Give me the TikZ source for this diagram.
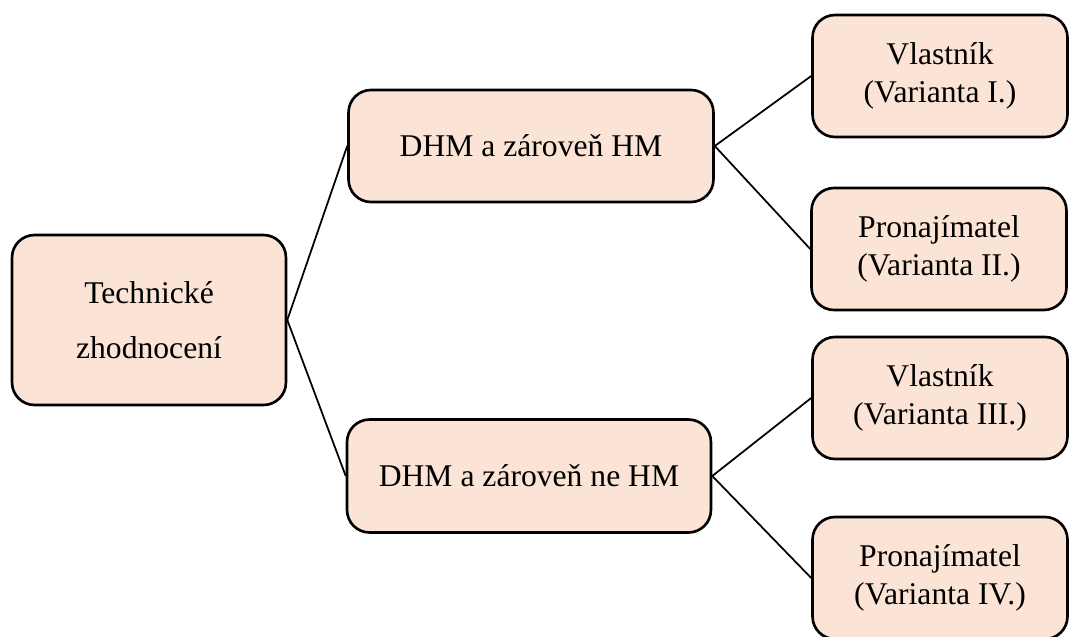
\documentclass[tikz,border=0pt]{standalone}
\usepackage{fontspec}
\setmainfont{Liberation Serif}
\definecolor{boxfill}{HTML}{FBE4D5}

\begin{document}
\begin{tikzpicture}[x=0.02cm, y=-0.02cm,
    box/.style={draw, line width=1.5pt, rounded corners=0.45cm, fill=boxfill,
      align=center, inner sep=0pt, font=\fontsize{18}{21.5}\selectfont},
    side/.style={box, minimum width=5.1cm, minimum height=2.44cm},
    link/.style={line width=1pt}]
        \useasboundingbox (0,0) rectangle (1069,636);
        \node[box, minimum width=5.48cm, minimum height=3.4cm] (tz) at (149,320) {Technické\\[9.5pt]zhodnocení};
        \node[box, minimum width=7.3cm, minimum height=2.24cm] (dhm) at (531,146) {DHM a zároveň HM};
        \node[box, minimum width=7.28cm, minimum height=2.26cm] (dhmne) at (529,476) {DHM a zároveň ne HM};
        \node[side] (v1) at (940,76) {Vlastník\\(Varianta I.)};
        \node[side] (v2) at (939,249) {Pronajímatel\\(Varianta II.)};
        \node[side] (v3) at (940,398) {Vlastník\\(Varianta III.)};
        \node[side] (v4) at (940,578) {Pronajímatel\\(Varianta IV.)};
        \foreach \a/\b in {tz/dhm, tz/dhmne, dhm/v1, dhm/v2, dhmne/v3, dhmne/v4} {
          \draw[link] (\a.east) -- (\b.west);
        }
     \end{tikzpicture}
\end{document}
